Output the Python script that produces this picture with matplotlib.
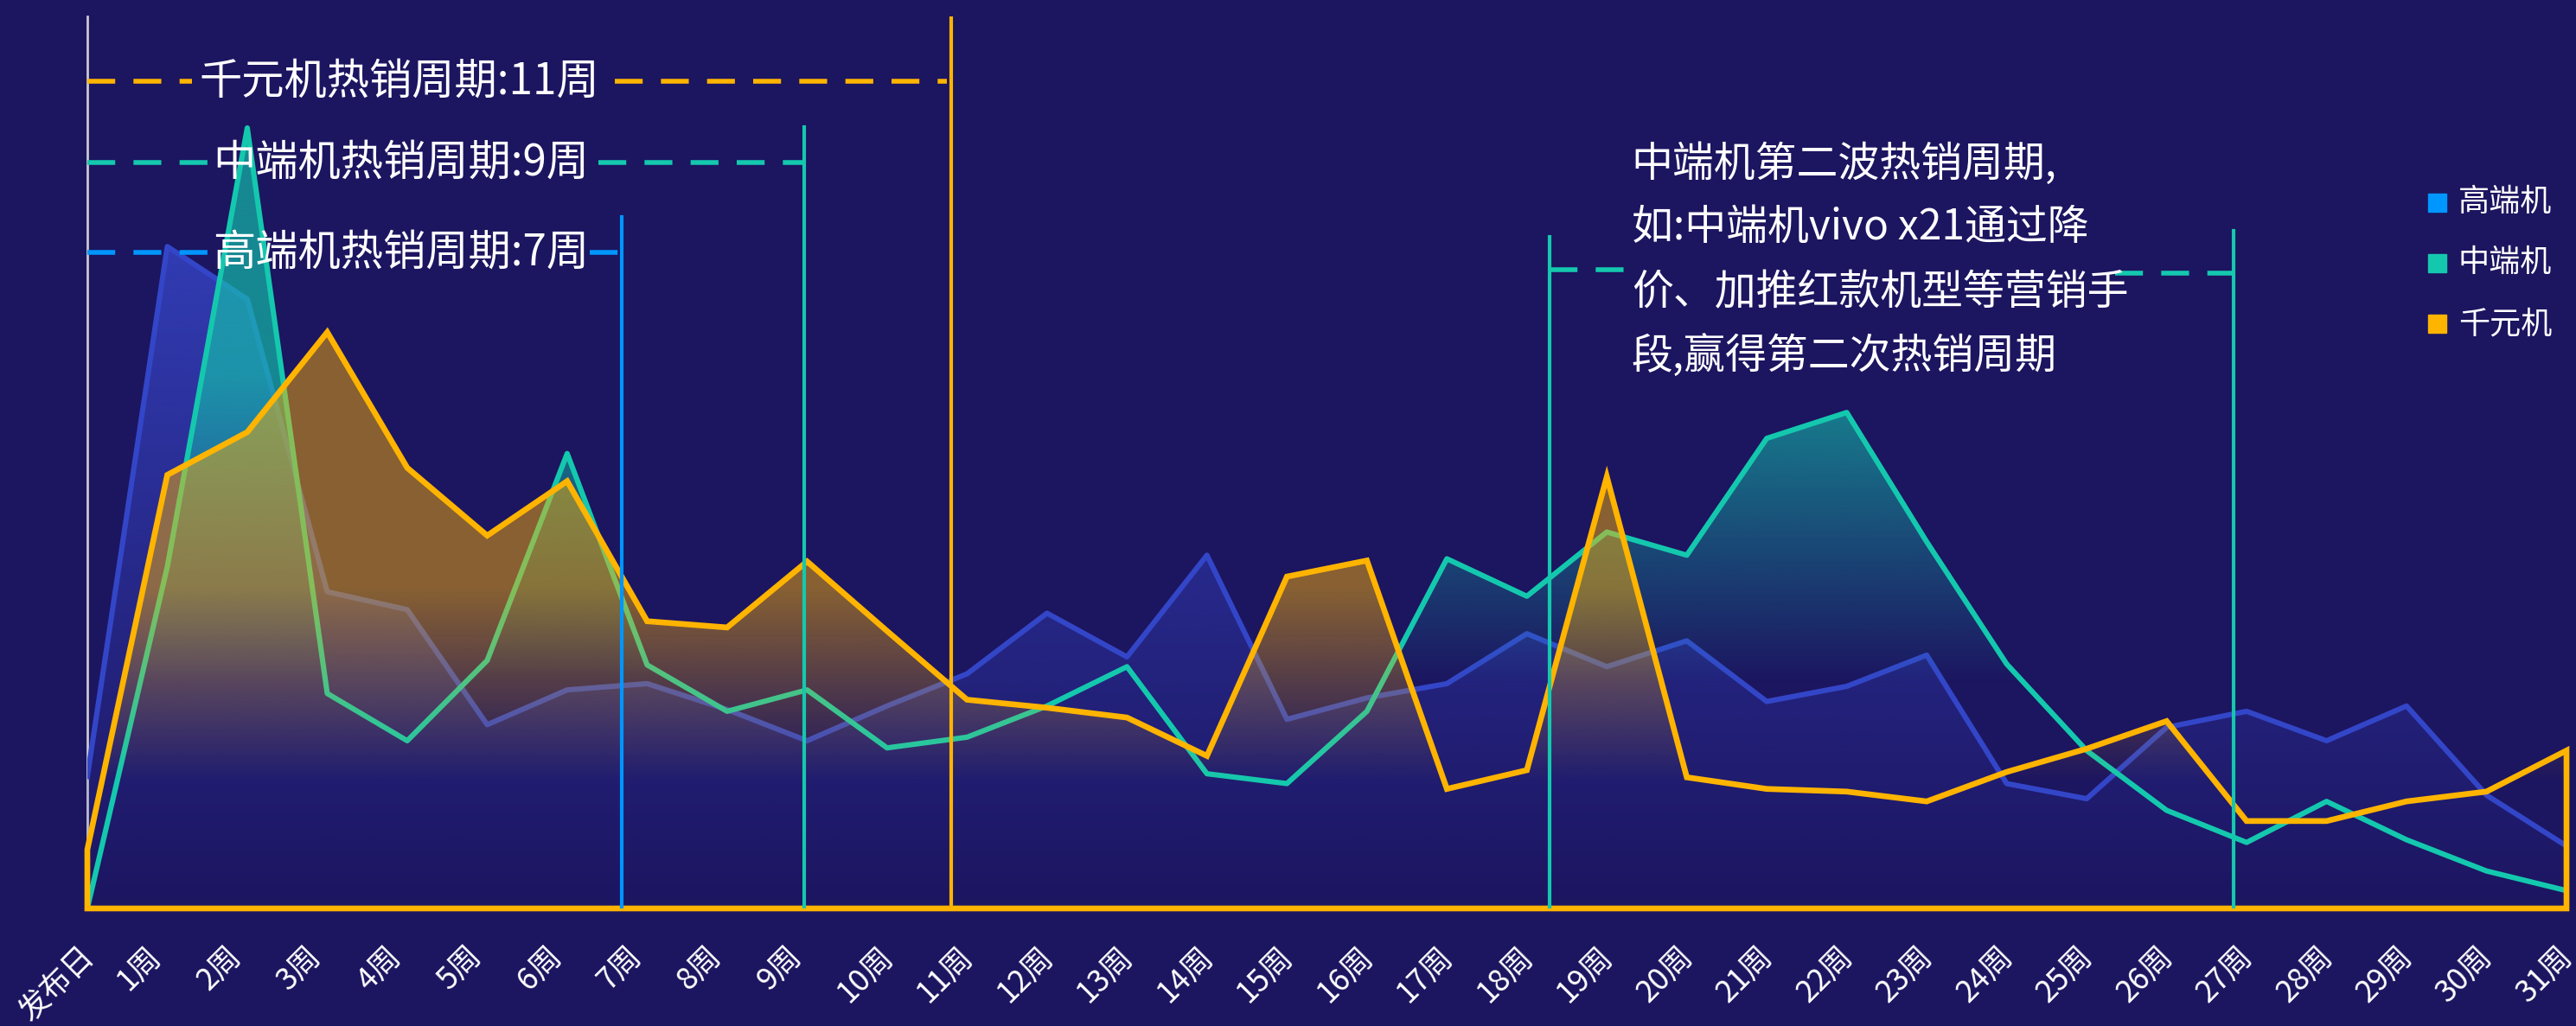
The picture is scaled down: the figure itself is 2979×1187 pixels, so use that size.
import numpy as np
import matplotlib.pyplot as plt
from matplotlib.patches import Polygon, Rectangle
from matplotlib.colors import to_rgb
from matplotlib.transforms import ScaledTranslation

plt.rcParams['font.family'] = ['Noto Sans CJK SC', 'DejaVu Sans']

# x轴类别
weeks = ['发布日'] + [f'{i}周' for i in range(1, 32)]

# 三个系列（相对热度）
high_end = [14.8, 74.2, 68.3, 35.5, 33.5, 20.6, 24.5, 25.2, 22.3, 18.8, 22.7,
            26.3, 33.1, 28.2, 39.6, 21.2, 23.6, 25.2, 30.8, 27.1, 30.0, 23.2,
            24.9, 28.4, 14.0, 12.3, 20.3, 22.1, 18.8, 22.7, 12.7, 7.0]
mid_range = [0.0, 38.3, 87.5, 24.1, 18.8, 27.8, 51.0, 27.3, 22.1, 24.5, 18.0,
             19.2, 22.7, 27.1, 15.1, 14.0, 22.1, 39.2, 35.0, 42.2, 39.6, 52.7,
             55.6, 41.1, 27.4, 17.7, 11.0, 7.4, 12.0, 7.7, 4.2, 2.0]
budget = [6.6, 48.6, 53.4, 64.6, 49.4, 41.8, 47.9, 32.2, 31.5, 38.9, 31.1,
          23.4, 22.5, 21.4, 17.1, 37.2, 39.0, 13.4, 15.5, 48.4, 14.7, 13.4,
          13.1, 12.0, 15.3, 17.9, 21.0, 9.8, 9.8, 12.0, 13.1, 17.7]

legend_names = ['高端机', '中端机', '千元机']

bg = '#1c1560'
c_blue = '#0096ff'
c_blue_line = '#3346c8'
c_teal = '#14c8ae'
c_yellow = '#ffb400'

W, H = 2979, 1187
fig = plt.figure(figsize=(W / 100, H / 100), dpi=100, facecolor=bg)
ax = fig.add_axes([101 / W, 136 / H, (2968 - 101) / W, (1051 - 19) / H])
ax.set_facecolor(bg)
x = np.arange(len(weeks))


def gradient_area(y, color, v0, v1, amax, z):
    # 渐变填充：按高度线性变化的透明度
    verts = [(0, 0)] + list(zip(x, y)) + [(x[-1], 0)]
    poly = Polygon(verts, closed=True, facecolor='none', edgecolor='none')
    ax.add_patch(poly)
    vv = np.linspace(0, 100, 500)
    rgba = np.zeros((500, 1, 4))
    rgba[..., :3] = to_rgb(color)
    rgba[:, 0, 3] = amax * np.clip((vv - v0) / (v1 - v0), 0, 1)
    im = ax.imshow(rgba, extent=[0, 31, 0, 100], origin='lower',
                   aspect='auto', zorder=z, interpolation='bilinear')
    im.set_clip_path(poly)
    return poly


gradient_area(high_end, '#3746c8', 0, 74, 0.8, 1)
ax.plot(x, high_end, color=c_blue_line, lw=4.4, zorder=1.5)
gradient_area(mid_range, c_teal, 25, 60, 0.65, 2)
ax.plot(x, mid_range, color=c_teal, lw=4.4, zorder=2.5)
gradient_area(budget, c_yellow, 14, 36, 0.48, 3)
yv = [(0, 0)] + list(zip(x, budget)) + [(x[-1], 0)]
ax.add_patch(Polygon(yv, closed=True, facecolor='none', edgecolor=c_yellow,
                     lw=4.8, zorder=3.5, clip_on=False))

ax.set_xlim(0, 31)
ax.set_ylim(0, 100)

# 热销周期标记线
ax.plot([6.68, 6.68], [0, 77.5], color=c_blue, lw=3, zorder=5)
ax.plot([8.96, 8.96], [0, 87.6], color=c_teal, lw=3, zorder=5)
ax.plot([10.8, 10.8], [0, 100], color=c_yellow, lw=3, zorder=5)
ax.plot([18.28, 18.28], [0, 75.3], color=c_teal, lw=3, zorder=5)
ax.plot([26.84, 26.84], [0, 76.0], color=c_teal, lw=3, zorder=5)

dash = (5.8, 3.8)
dkw = dict(lw=4, dashes=dash, zorder=5)
ax.plot([0, 1.31], [92.7, 92.7], color=c_yellow, **dkw)
ax.plot([6.6, 10.75], [92.7, 92.7], color=c_yellow, **dkw)
ax.plot([0, 1.52], [83.6, 83.6], color=c_teal, **dkw)
ax.plot([6.39, 8.96], [83.6, 83.6], color=c_teal, **dkw)
ax.plot([0, 1.54], [73.5, 73.5], color=c_blue, **dkw)
ax.plot([6.28, 6.68], [73.5, 73.5], color=c_blue, **dkw)
ax.plot([18.28, 19.22], [71.6, 71.6], color=c_teal, **dkw)
ax.plot([25.36, 26.84], [71.2, 71.2], color=c_teal, **dkw)

tkw = dict(color='white', fontsize=35.5, ha='center', va='center', zorder=6)
ax.text(3.9, 92.7, '千元机热销周期:11周', **tkw)
ax.text(3.92, 83.6, '中端机热销周期:9周', **tkw)
ax.text(3.92, 73.5, '高端机热销周期:7周', **tkw)

note = ['中端机第二波热销周期,', '如:中端机vivo x21通过降',
        '价、加推红款机型等营销手', '段,赢得第二次热销周期']
for line, yy in zip(note, [83.4, 76.3, 69.0, 61.8]):
    ax.text(19.31, yy, line, color='white', fontsize=34.5, ha='left',
            va='center', zorder=6)

# 坐标轴
ax.set_xticks(x)
ax.set_xticklabels(weeks, rotation=45, ha='right', fontsize=25.5, color='white')
ax.tick_params(axis='x', length=0, pad=27)
for lab in ax.get_xticklabels():
    txt = lab.get_text()
    shift = 0 if len(txt) == 2 else (14 if len(txt) == 3 and txt[0].isdigit() else 16)
    lab.set_transform(lab.get_transform() + ScaledTranslation(shift / 100, 0, fig.dpi_scale_trans))
ax.set_yticks([])
for s in ['top', 'right', 'bottom']:
    ax.spines[s].set_visible(False)
ax.spines['left'].set_color('#c8c8d0')
ax.spines['left'].set_linewidth(2)
ax.spines['left'].set_zorder(0.5)

# 图例
for name, col, cy in zip(legend_names, [c_blue, c_teal, c_yellow], [234, 304, 375]):
    fig.add_artist(Rectangle((2808 / W, 1 - (cy + 10.5) / H), 21 / W, 21 / H,
                             transform=fig.transFigure, color=col))
    fig.text(2843 / W, 1 - cy / H, name, color='white', fontsize=26,
             ha='left', va='center')

fig.savefig('out.png', dpi=100, facecolor=bg)
